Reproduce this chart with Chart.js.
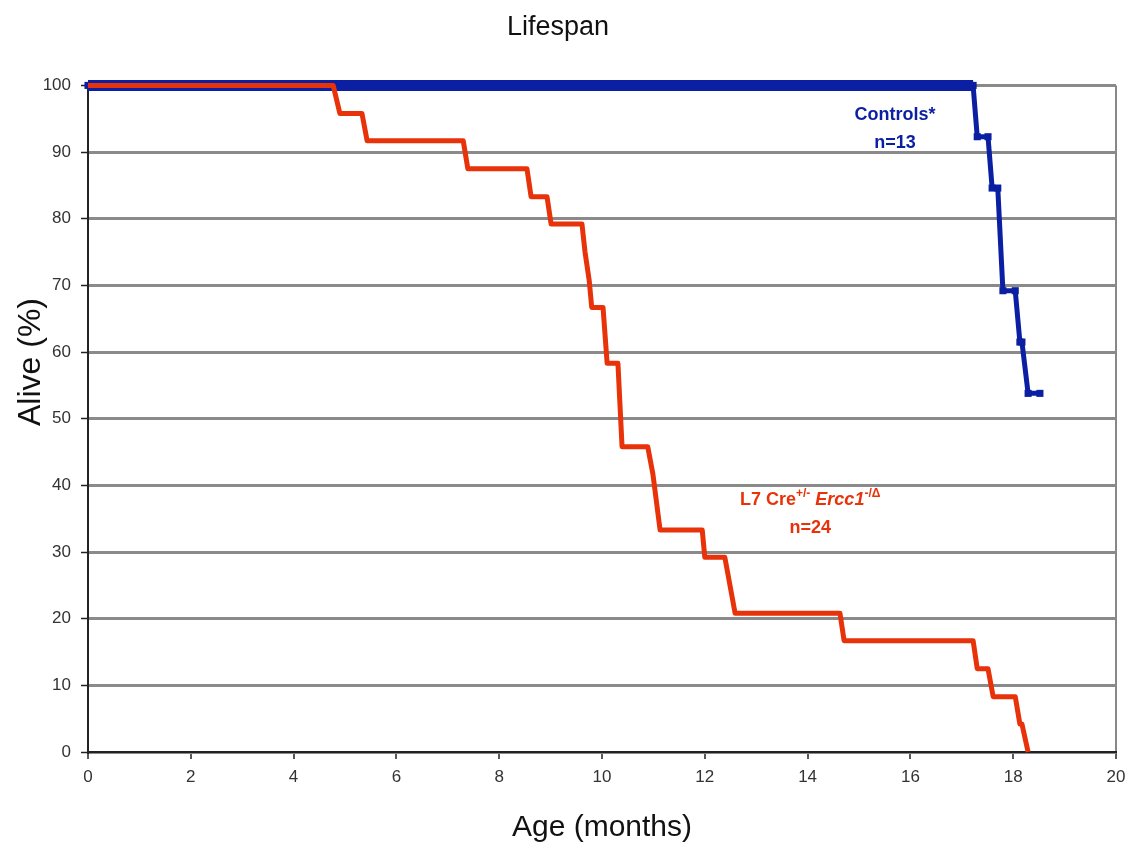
<!DOCTYPE html>
<html><head><meta charset="utf-8">
<script src="https://cdn.jsdelivr.net/npm/chart.js@4.4.1/dist/chart.umd.min.js"></script>
<style>html,body{margin:0;padding:0;background:#fff}canvas{display:block}</style>
</head><body>
<canvas id="c" width="1134" height="848"></canvas>
<script>
// Kaplan-Meier style curve points
const controlMonths = [0, 17.22, 17.30, 17.51, 17.59, 17.70, 17.80, 18.04, 18.13, 18.17, 18.29, 18.52];
const controlAlive  = [100, 100, 92.3, 92.3, 84.6, 84.6, 69.2, 69.2, 61.5, 61.5, 53.8, 53.8];

const mutantMonths = [0, 4.77, 4.90, 5.33, 5.43, 7.30, 7.39, 8.54, 8.62, 8.93, 9.01, 9.61, 9.67, 9.75, 9.80, 10.02, 10.10, 10.31, 10.39, 10.89, 10.99, 11.13, 11.95, 12.00, 12.39, 12.59, 14.63, 14.71, 17.22, 17.30, 17.51, 17.61, 18.04, 18.13, 18.17, 18.29];
const mutantAlive  = [100, 100, 95.8, 95.8, 91.7, 91.7, 87.5, 87.5, 83.3, 83.3, 79.2, 79.2, 75.0, 70.8, 66.7, 66.7, 58.3, 58.3, 45.8, 45.8, 41.7, 33.3, 33.3, 29.2, 29.2, 20.8, 20.8, 16.7, 16.7, 12.5, 12.5, 8.3, 8.3, 4.2, 4.2, 0];

const xTickValues = [0, 2, 4, 6, 8, 10, 12, 14, 16, 18, 20];
const yTickValues = [0, 10, 20, 30, 40, 50, 60, 70, 80, 90, 100];

const chartTitle = 'Lifespan';
const xTitle = 'Age (months)';
const yTitle = 'Alive (%)';
const controlLabel = ['Controls*', 'n=13'];
const controlLabelPos = [15.7, 95.6];
const mutantLabelPos = [14.05, 37.8];
const mutantN = 'n=24';

const BLUE = '#0b1fa2';
const RED = '#e8320a';

const toXY = (xs, ys) => xs.map((x, i) => ({x, y: ys[i]}));

const annotations = {
  id: 'annotations',
  afterDatasetsDraw(chart) {
    const {ctx, scales: {x, y}} = chart;
    ctx.save();
    ctx.fillStyle = BLUE;
    ctx.font = 'bold 18px "Liberation Sans", Arial, sans-serif';
    ctx.textAlign = 'center';
    ctx.textBaseline = 'middle';
    const cx = x.getPixelForValue(controlLabelPos[0]);
    const cy = y.getPixelForValue(controlLabelPos[1]);
    ctx.fillText(controlLabel[0], cx, cy);
    ctx.fillText(controlLabel[1], cx, cy + 28);

    ctx.fillStyle = RED;
    const mx = x.getPixelForValue(mutantLabelPos[0]);
    const my = y.getPixelForValue(mutantLabelPos[1]);
    const parts = [
      {t: 'L7 Cre', f: 'bold 18px "Liberation Sans", Arial, sans-serif', dy: 0},
      {t: '+/-', f: 'bold 12px "Liberation Sans", Arial, sans-serif', dy: -6},
      {t: ' ', f: 'bold 18px "Liberation Sans", Arial, sans-serif', dy: 0},
      {t: 'Ercc1', f: 'italic bold 18px "Liberation Sans", Arial, sans-serif', dy: 0},
      {t: '-/Δ', f: 'bold 12px "Liberation Sans", Arial, sans-serif', dy: -6}
    ];
    let total = 0;
    parts.forEach(p => { ctx.font = p.f; p.w = ctx.measureText(p.t).width; total += p.w; });
    let px = mx - total / 2;
    ctx.textAlign = 'left';
    parts.forEach(p => { ctx.font = p.f; ctx.fillText(p.t, px, my + p.dy); px += p.w; });
    ctx.textAlign = 'center';
    ctx.font = 'bold 18px "Liberation Sans", Arial, sans-serif';
    ctx.fillText(mutantN, mx, my + 28);

    ctx.fillStyle = '#111';
    ctx.font = '32px "Liberation Sans", Arial, sans-serif';
    ctx.translate(31, 362);
    ctx.rotate(-Math.PI / 2);
    ctx.fillText(yTitle, 0, 0);
    ctx.restore();
  }
};

new Chart(document.getElementById('c'), {
  type: 'scatter',
  data: {
    datasets: [
      {
        label: 'L7 Cre+/- Ercc1-/Δ',
        data: toXY(mutantMonths, mutantAlive),
        showLine: true,
        clip: false,
        borderColor: RED,
        backgroundColor: RED,
        borderWidth: 5,
        pointRadius: 0,
        borderJoinStyle: 'round',
        order: 0
      },
      {
        label: 'Controls*',
        data: toXY(controlMonths, controlAlive),
        showLine: true,
        clip: false,
        borderColor: BLUE,
        backgroundColor: BLUE,
        borderWidth: 5,
        pointStyle: 'rect',
        pointRadius: 5,
        pointBorderWidth: 0,
        borderJoinStyle: 'miter',
        segment: {
          borderWidth: c => (c.p0.parsed.y === 100 && c.p1.parsed.y === 100) ? 11 : 5
        },
        order: 1
      }
    ]
  },
  options: {
    responsive: false,
    animation: false,
    layout: {padding: {right: 18}},
    plugins: {
      legend: {display: false},
      tooltip: {enabled: false},
      title: {
        display: true,
        text: chartTitle,
        color: '#111',
        font: {family: '"Liberation Sans", Arial, sans-serif', size: 27, weight: 'normal'},
        padding: {top: 11, bottom: 42}
      }
    },
    scales: {
      x: {
        type: 'linear',
        min: 0, max: 20,
        afterFit: s => { s.height = 96; },
        afterBuildTicks: s => { s.ticks = xTickValues.map(v => ({value: v})); },
        ticks: {
          color: '#333',
          font: {family: '"Liberation Sans", Arial, sans-serif', size: 17},
          padding: 8,
          maxRotation: 0
        },
        grid: {
          color: c => (c.tick && c.tick.value === 20) ? '#888' : 'rgba(0,0,0,0)',
          lineWidth: 2,
          tickColor: '#222',
          tickWidth: 1.5,
          tickLength: 7
        },
        border: {display: true, color: '#222', width: 2},
        title: {
          display: true,
          text: xTitle,
          color: '#111',
          font: {family: '"Liberation Sans", Arial, sans-serif', size: 30},
          padding: {bottom: 2}
        }
      },
      y: {
        type: 'linear',
        min: 0, max: 100,
        afterFit: s => { s.width = 88; },
        afterBuildTicks: s => { s.ticks = yTickValues.map(v => ({value: v})); },
        ticks: {
          color: '#333',
          font: {family: '"Liberation Sans", Arial, sans-serif', size: 17},
          padding: 10
        },
        grid: {
          color: '#8a8a8a',
          lineWidth: 3,
          tickColor: '#222',
          tickWidth: 1.5,
          tickLength: 7
        },
        border: {display: true, color: '#222', width: 2}
      }
    }
  },
  plugins: [annotations]
});
</script>
</body></html>
